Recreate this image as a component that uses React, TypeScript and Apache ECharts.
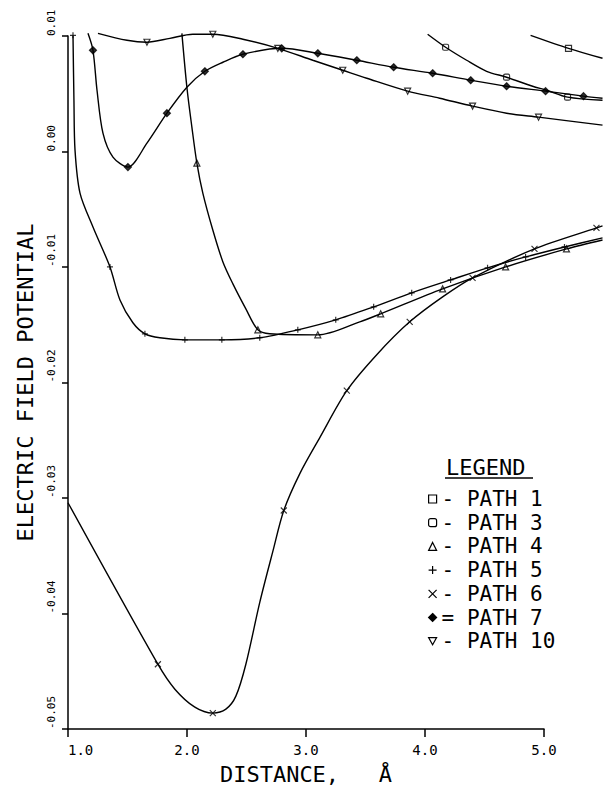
import React, { useEffect, useRef } from "react";
import * as echarts from "echarts";

// [x (Å), potential, marker? 1/0]
type P = [number, number, number];

const path1: P[] = [
  [4.891, 0.01006, 0], [5.21, 0.00894, 1], [5.496, 0.00808, 0],
];
const path3: P[] = [
  [4.025, 0.01015, 0], [4.176, 0.00903, 1], [4.353, 0.00791, 0], [4.521, 0.00696, 0],
  [4.689, 0.00645, 1], [4.908, 0.00567, 0], [5.025, 0.00533, 0], [5.202, 0.00473, 1],
  [5.496, 0.00447, 0],
];
const path4: P[] = [
  [1.958, 0.01023, 0], [2.0, 0.00559, 0], [2.042, 0.00215, 0], [2.084, -0.00095, 1],
  [2.134, -0.00353, 0], [2.218, -0.00671, 0], [2.303, -0.00946, 0], [2.387, -0.01135, 0],
  [2.496, -0.0135, 0], [2.597, -0.01531, 1], [2.697, -0.01565, 0], [3.101, -0.01574, 1],
  [3.454, -0.01462, 0], [3.63, -0.01393, 1], [4.151, -0.01178, 1], [4.681, -0.00989, 1],
  [5.193, -0.00834, 1], [5.496, -0.00757, 0],
];
const path5: P[] = [
  [1.042, 0.01006, 1], [1.05, 0.00447, 0], [1.059, 0.00017, 0], [1.101, -0.00353, 0],
  [1.21, -0.00645, 0], [1.353, -0.00989, 1], [1.437, -0.01273, 0], [1.546, -0.0147, 0],
  [1.647, -0.01565, 1], [1.773, -0.01599, 0], [1.983, -0.01617, 1], [2.294, -0.01617, 1],
  [2.613, -0.01599, 1], [2.933, -0.01531, 1], [3.252, -0.01445, 1], [3.571, -0.01333, 1],
  [3.891, -0.01212, 1], [4.218, -0.01101, 1], [4.529, -0.00997, 1], [4.849, -0.00903, 1],
  [5.176, -0.00817, 1], [5.496, -0.00739, 0],
];
const path6: P[] = [
  [1.0, -0.0302, 0], [1.756, -0.04411, 1], [1.899, -0.04626, 0], [2.067, -0.04781, 0],
  [2.218, -0.04832, 1], [2.328, -0.04798, 0], [2.412, -0.04686, 0], [2.496, -0.04411, 0],
  [2.613, -0.03878, 0], [2.723, -0.03439, 0], [2.815, -0.03087, 1], [2.95, -0.02769, 0],
  [3.118, -0.02459, 0], [3.345, -0.02055, 1], [3.597, -0.01745, 0], [3.874, -0.01462, 1],
  [4.151, -0.01247, 0], [4.403, -0.01083, 1], [4.924, -0.00834, 1], [5.445, -0.00653, 1],
  [5.496, -0.00636, 0],
];
const path7: P[] = [
  [1.168, 0.01023, 0], [1.21, 0.00877, 1], [1.244, 0.00533, 0], [1.294, 0.00163, 0],
  [1.378, -0.00043, 0], [1.504, -0.00129, 1], [1.664, 0.00077, 0], [1.832, 0.00335, 1],
  [2.0, 0.00559, 0], [2.151, 0.00696, 1], [2.303, 0.00774, 0], [2.471, 0.00843, 1],
  [2.798, 0.00894, 1], [3.101, 0.00851, 1], [3.429, 0.00791, 1], [3.739, 0.00731, 1],
  [4.067, 0.00679, 1], [4.387, 0.00619, 1], [4.689, 0.00567, 1], [5.017, 0.00525, 1],
  [5.336, 0.00482, 1], [5.496, 0.00464, 0],
];
const path10: P[] = [
  [1.252, 0.01023, 0], [1.496, 0.00963, 0], [1.664, 0.00946, 1], [1.857, 0.0098, 0],
  [2.05, 0.01015, 0], [2.218, 0.01015, 1], [2.471, 0.00972, 0], [2.765, 0.00894, 1],
  [3.059, 0.00791, 0], [3.311, 0.00705, 1], [3.513, 0.00636, 0], [3.857, 0.00525, 1],
  [4.126, 0.00464, 0], [4.403, 0.00396, 1], [4.689, 0.00335, 0], [4.958, 0.00301, 1],
  [5.496, 0.00232, 0],
];

const pathNames = ["PATH 1", "PATH 3", "PATH 4", "PATH 5", "PATH 6", "PATH 7", "PATH 10"];
const pathData = [path1, path3, path4, path5, path6, path7, path10];
const legendSeparators = ["-", "-", "-", "-", "-", "=", "-"];

// visible axes
const xMin = 1;
const xMax = 5;
const xStep = 1;
const yMin = -0.05;
const yMax = 0.01;
const yStep = 0.01;
// the plotted curves run on past the drawn axis (to 5.5 Å and slightly above 0.01)
const plotXMax = 5.5;
const plotYMax = 0.0105;

const FONT = '"DejaVu Sans Mono", "Liberation Mono", monospace';

const symbols = [
  "rect",
  "roundRect",
  "triangle",
  "path://M5,0L5,10M0,5L10,5",
  "path://M0,0L10,10M10,0L0,10",
  "diamond",
  "path://M0,0L10,0L5,9Z",
];
const fills = [
  "rgba(0,0,0,0)",
  "rgba(0,0,0,0)",
  "rgba(0,0,0,0)",
  "rgba(0,0,0,0)",
  "rgba(0,0,0,0)",
  "#000",
  "rgba(0,0,0,0)",
];

const W = 603;
const H = 790;
const gLeft = 68;
const gRight = 59;
const gTop = 36;
const gBottom = 57.4;

export default function App() {
  const ref = useRef<HTMLDivElement>(null);

  useEffect(() => {
    if (!ref.current) return;
    const chart = echarts.init(ref.current, undefined, { renderer: "svg" });

    const plotW = W - gLeft - gRight;
    const plotH = H - gTop - gBottom;
    const pxPerX = plotW / (xMax - xMin);
    const pxPerY = plotH / (yMax - yMin);
    const grid2Width = (plotXMax - xMin) * pxPerX;
    const grid2Top = gTop - (plotYMax - yMax) * pxPerY;

    const series: any[] = [];
    pathNames.forEach((name, i) => {
      const pts = pathData[i];
      series.push({
        name,
        type: "line",
        xAxisIndex: 1,
        yAxisIndex: 1,
        data: pts.map((p) => [p[0], p[1]]),
        smooth: 0.3,
        symbol: "none",
        showSymbol: false,
        clip: false,
        lineStyle: { color: "#000", width: 1.4 },
        z: 2,
      });
      series.push({
        name,
        type: "scatter",
        xAxisIndex: 1,
        yAxisIndex: 1,
        data: pts.filter((p) => p[2] === 1).map((p) => [p[0], p[1]]),
        symbol: symbols[i],
        symbolSize: i === 5 ? 7 : 6,
        clip: false,
        itemStyle: { color: fills[i], borderColor: "#000", borderWidth: 1.2 },
        z: 3,
      });
    });

    const sepMap: Record<string, string> = {};
    pathNames.forEach((n, i) => (sepMap[n] = legendSeparators[i]));

    chart.setOption({
      animation: false,
      backgroundColor: "#fff",
      grid: [
        { left: gLeft, right: gRight, top: gTop, bottom: gBottom, containLabel: false },
        { left: gLeft, width: grid2Width, top: grid2Top, bottom: gBottom, containLabel: false },
      ],
      xAxis: [
        {
          type: "value",
          gridIndex: 0,
          min: xMin,
          max: xMax,
          interval: xStep,
          axisLine: { show: true, onZero: false, lineStyle: { color: "#000", width: 1.5 } },
          axisTick: { show: true, length: 8, lineStyle: { color: "#000", width: 1.5 } },
          splitLine: { show: false },
          axisLabel: {
            formatter: (v: number) => v.toFixed(1),
            fontFamily: FONT,
            fontSize: 14,
            color: "#000",
            margin: 14,
            alignMinLabel: "left",
          },
          name: "DISTANCE,   Å",
          nameLocation: "middle",
          nameGap: 34,
          nameTextStyle: { fontFamily: FONT, fontSize: 22, color: "#000" },
        },
        {
          type: "value",
          gridIndex: 1,
          min: xMin,
          max: plotXMax,
          show: false,
          splitLine: { show: false },
        },
      ],
      yAxis: [
        {
          type: "value",
          gridIndex: 0,
          min: yMin,
          max: yMax,
          interval: yStep,
          axisLine: { show: true, onZero: false, lineStyle: { color: "#000", width: 1.5 } },
          axisTick: { show: true, length: 6, lineStyle: { color: "#000", width: 1.5 } },
          splitLine: { show: false },
          axisLabel: {
            rotate: 90,
            align: "left",
            verticalAlign: "bottom",
            margin: 11,
            fontFamily: FONT,
            fontSize: 11,
            color: "#000",
            formatter: (v: number) => (Math.abs(v) < 1e-9 ? 0 : v).toFixed(2),
          },
          name: "ELECTRIC FIELD POTENTIAL",
          nameLocation: "middle",
          nameGap: 32,
          nameTextStyle: { fontFamily: FONT, fontSize: 22, color: "#000" },
        },
        {
          type: "value",
          gridIndex: 1,
          min: yMin,
          max: plotYMax,
          show: false,
          splitLine: { show: false },
        },
      ],
      legend: {
        orient: "vertical",
        left: 423,
        top: 483.5,
        itemWidth: 8,
        itemHeight: 8,
        itemGap: 2.7,
        selectedMode: false,
        data: pathNames.map((n, i) => ({
          name: n,
          icon: symbols[i],
          itemStyle: { color: fills[i], borderColor: "#000", borderWidth: 1.2 },
        })),
        formatter: (n: string) => `${sepMap[n]} ${n}`,
        textStyle: { fontFamily: FONT, fontSize: 21, lineHeight: 21, color: "#000" },
      },
      graphic: [
        {
          type: "text",
          left: 446,
          top: 456,
          style: { text: "LEGEND", font: `22px ${FONT}`, fill: "#000" },
        },
        {
          type: "line",
          shape: { x1: 445, y1: 478, x2: 533, y2: 478 },
          style: { stroke: "#000", lineWidth: 1.5 },
        },
      ],
      series,
    });

    return () => chart.dispose();
  }, []);

  return (
    <div
      ref={ref}
      style={{ position: "absolute", left: 0, top: 0, width: W, height: H, background: "#fff" }}
    />
  );
}
